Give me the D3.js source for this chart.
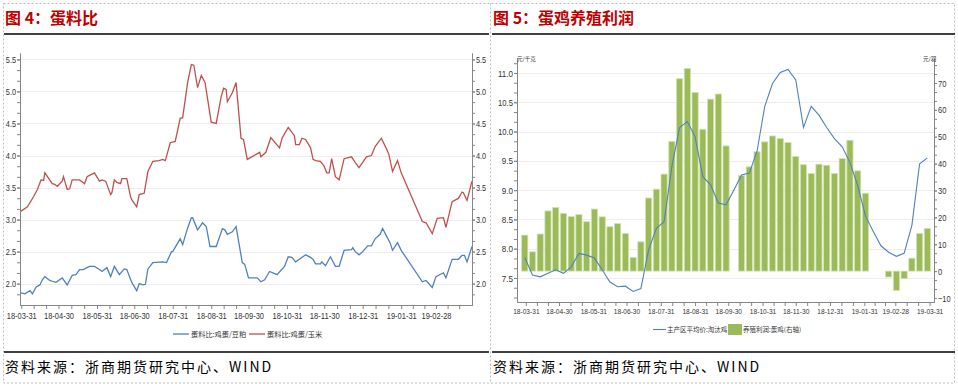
<!DOCTYPE html>
<html><head><meta charset="utf-8">
<script src="https://cdn.jsdelivr.net/npm/d3@7"></script>
<style>body{margin:0;background:#fff}svg{display:block}</style>
</head><body>
<svg id="c" width="958" height="387"></svg>
<script>
// ---------- Figure 4 data: 蛋料比 ----------
const soyDates = ["2018-03-30","2018-04-03","2018-04-07","2018-04-09","2018-04-12","2018-04-15","2018-04-17","2018-04-19","2018-04-23","2018-04-26","2018-04-28","2018-05-03","2018-05-07","2018-05-11","2018-05-14","2018-05-17","2018-05-20","2018-05-23","2018-05-25","2018-05-29","2018-06-02","2018-06-04","2018-06-08","2018-06-11","2018-06-14","2018-06-18","2018-06-22","2018-06-24","2018-06-28","2018-07-02","2018-07-04","2018-07-07","2018-07-09","2018-07-11","2018-07-15","2018-07-23","2018-07-26","2018-07-30","2018-07-31","2018-08-06","2018-08-08","2018-08-12","2018-08-15","2018-08-16","2018-08-20","2018-08-24","2018-08-27","2018-08-30","2018-09-04","2018-09-09","2018-09-11","2018-09-13","2018-09-17","2018-09-20","2018-09-25","2018-09-27","2018-09-30","2018-10-07","2018-10-10","2018-10-13","2018-10-17","2018-10-23","2018-10-29","2018-11-01","2018-11-04","2018-11-07","2018-11-10","2018-11-15","2018-11-19","2018-11-21","2018-11-23","2018-11-27","2018-11-28","2018-12-01","2018-12-05","2018-12-09","2018-12-12","2018-12-16","2018-12-22","2018-12-23","2018-12-25","2018-12-28","2018-12-31","2019-01-04","2019-01-07","2019-01-10","2019-01-14","2019-01-16","2019-01-19","2019-01-22","2019-01-24","2019-01-28","2019-01-31","2019-02-17","2019-02-20","2019-02-25","2019-02-28","2019-03-06","2019-03-08","2019-03-13","2019-03-18","2019-03-21","2019-03-23","2019-03-25","2019-03-29"];
const soyValues = [1.86,1.84,1.89,1.84,1.95,1.98,2.06,2.11,2.05,2.03,2.02,2.09,1.98,2.13,2.14,2.22,2.22,2.25,2.27,2.27,2.22,2.19,2.25,2.11,2.27,2.14,2.23,2.22,2.02,1.89,2.00,1.98,1.99,2.23,2.33,2.34,2.33,2.50,2.50,2.70,2.61,2.87,3.03,3.03,2.84,2.95,2.89,2.58,2.58,2.86,2.84,2.77,2.81,2.89,2.33,2.30,2.09,2.09,2.03,2.06,2.19,2.14,2.27,2.42,2.41,2.34,2.38,2.45,2.41,2.38,2.31,2.31,2.34,2.28,2.42,2.27,2.27,2.52,2.53,2.56,2.50,2.45,2.50,2.59,2.59,2.70,2.77,2.86,2.75,2.64,2.52,2.64,2.52,2.03,2.05,1.94,2.11,2.17,2.09,2.38,2.38,2.44,2.44,2.34,2.58];

const cornDates = ["2018-03-30","2018-04-05","2018-04-10","2018-04-13","2018-04-16","2018-04-18","2018-04-19","2018-04-25","2018-04-27","2018-04-29","2018-05-03","2018-05-04","2018-05-07","2018-05-09","2018-05-11","2018-05-17","2018-05-21","2018-05-23","2018-05-25","2018-05-29","2018-06-02","2018-06-04","2018-06-07","2018-06-11","2018-06-12","2018-06-14","2018-06-16","2018-06-19","2018-06-20","2018-06-24","2018-06-27","2018-06-28","2018-07-02","2018-07-04","2018-07-08","2018-07-11","2018-07-15","2018-07-20","2018-07-23","2018-07-25","2018-07-29","2018-08-02","2018-08-06","2018-08-08","2018-08-12","2018-08-15","2018-08-17","2018-08-20","2018-08-23","2018-08-26","2018-08-31","2018-09-04","2018-09-08","2018-09-10","2018-09-12","2018-09-13","2018-09-17","2018-09-20","2018-09-24","2018-09-26","2018-09-29","2018-10-09","2018-10-10","2018-10-14","2018-10-18","2018-10-25","2018-10-27","2018-11-01","2018-11-04","2018-11-06","2018-11-07","2018-11-10","2018-11-12","2018-11-15","2018-11-19","2018-11-21","2018-11-23","2018-11-27","2018-11-30","2018-12-02","2018-12-04","2018-12-06","2018-12-09","2018-12-12","2018-12-16","2018-12-22","2018-12-25","2018-12-28","2019-01-03","2019-01-07","2019-01-10","2019-01-15","2019-01-19","2019-01-21","2019-01-24","2019-01-28","2019-01-31","2019-02-17","2019-02-20","2019-02-25","2019-03-01","2019-03-06","2019-03-08","2019-03-13","2019-03-18","2019-03-21","2019-03-22","2019-03-25","2019-03-29"];
const cornValues = [3.12,3.20,3.36,3.47,3.62,3.61,3.73,3.56,3.55,3.52,3.60,3.67,3.47,3.48,3.62,3.62,3.56,3.67,3.69,3.73,3.60,3.62,3.60,3.39,3.42,3.62,3.58,3.56,3.64,3.64,3.36,3.31,3.20,3.39,3.41,3.75,3.91,3.92,3.94,3.92,4.20,4.22,4.58,4.59,5.14,5.42,5.41,5.06,5.25,5.14,4.52,4.50,4.92,5.05,5.03,4.84,4.98,5.14,4.27,4.25,3.94,4.05,3.98,4.05,4.28,4.12,4.27,4.44,4.36,4.31,4.17,4.17,4.27,4.25,4.12,3.94,3.92,3.91,3.83,3.73,3.73,3.95,3.67,3.62,3.95,3.98,3.89,3.81,3.98,4.00,4.14,4.27,4.11,4.02,3.75,3.92,3.73,2.97,2.95,2.78,3.02,3.03,2.88,3.28,3.33,3.43,3.42,3.30,3.60];

const leftXTickLabels = ["18-03-31","18-04-30","18-05-31","18-06-30","18-07-31","18-08-31","18-09-30","18-10-31","18-11-30","18-12-31","19-01-31","19-02-28"];
const leftYTicks = [2.0,2.5,3.0,3.5,4.0,4.5,5.0,5.5];
const leftSeriesNames = ["蛋料比:鸡蛋/豆粕","蛋料比:鸡蛋/玉米"];

// ---------- Figure 5 data: 蛋鸡养殖利润 ----------
const weekDates = ["2018-03-30","2018-04-06","2018-04-13","2018-04-20","2018-04-27","2018-05-04","2018-05-11","2018-05-18","2018-05-25","2018-06-01","2018-06-08","2018-06-15","2018-06-22","2018-06-29","2018-07-06","2018-07-13","2018-07-20","2018-07-27","2018-08-03","2018-08-10","2018-08-17","2018-08-24","2018-08-31","2018-09-07","2018-09-14","2018-09-21","2018-09-28","2018-10-05","2018-10-12","2018-10-19","2018-10-26","2018-11-02","2018-11-09","2018-11-16","2018-11-23","2018-11-30","2018-12-07","2018-12-14","2018-12-21","2018-12-28","2019-01-04","2019-01-11","2019-01-18","2019-01-25","2019-02-01","2019-02-08","2019-02-15","2019-02-22","2019-03-01","2019-03-08","2019-03-15","2019-03-22","2019-03-29"];
const henPrice = [7.85,7.55,7.52,7.58,7.64,7.58,7.69,7.92,7.89,7.84,7.64,7.43,7.35,7.36,7.27,7.32,7.98,8.35,8.46,9.40,10.07,10.17,9.91,9.23,9.09,8.78,8.75,9.00,9.26,9.29,9.66,10.43,10.82,11.01,11.06,10.88,10.07,10.43,10.28,10.07,9.88,9.74,9.47,9.08,8.56,8.30,8.05,7.94,7.87,7.92,8.40,9.45,9.55];
const layerProfit = [13.4,7.2,13.8,22.4,23.7,21.5,20.3,21.0,18.4,23.1,20.2,16.5,17.7,14.0,5.1,10.9,27.2,30.5,36.1,48.3,71.6,75.4,66.5,52.8,64.0,65.9,46.6,null,35.5,38.8,44.4,48.1,50.3,49.3,47.9,42.7,39.6,36.3,39.8,39.4,36.3,41.9,48.7,37.3,29.0,null,null,-2.2,-7.2,-2.8,4.8,14.0,15.9];
const rightXTickLabels = ["18-03-31","18-04-30","18-05-31","18-06-30","18-07-31","18-08-31","18-09-30","18-10-31","18-11-30","18-12-31","19-01-31","19-02-28","19-03-31"];
const rightLeftYTicks = [7.5,8.0,8.5,9.0,9.5,10.0,10.5,11.0];
const rightRightYTicks = [-10,0,10,20,30,40,50,60,70];
const rightSeriesNames = ["主产区平均价:淘汰鸡","养殖利润:蛋鸡(右轴)"];

const titles = ["图 4：蛋料比","图 5：蛋鸡养殖利润"];
const sourceText = "资料来源：浙商期货研究中心、WIND";

// ---------- drawing ----------
const NUM = "'Liberation Sans Narrow','Arial Narrow','Liberation Sans',Arial,sans-serif";
const CJK = "'Noto Sans CJK SC','Noto Sans',sans-serif";
const AX = "#868686", TXT = "#333", GRID = "#EDEDED";
const BLUE = "#4F81BD", RED = "#C0504D", GREEN = "#9BBB59";
const pDate = d3.timeParse("%Y-%m-%d"), pTick = d3.timeParse("%y-%m-%d"), fTick = d3.timeFormat("%y-%m-%d");
const svg = d3.select("#c");

svg.append("rect").attr("width",958).attr("height",387).attr("fill","#fff");
const frame = svg.append("g").attr("fill","none").attr("stroke","#BDBDBD").attr("stroke-dasharray","2,2");
frame.append("rect").attr("x",3.5).attr("y",3.5).attr("width",951).attr("height",379.5);
frame.append("line").attr("x1",490.5).attr("x2",490.5).attr("y1",3.5).attr("y2",383);

[[4,489],[492,955]].forEach(([a,b],i)=>{
  svg.append("line").attr("x1",a).attr("x2",b).attr("y1",34).attr("y2",34).attr("stroke","#000").attr("stroke-width",1.5);
  svg.append("line").attr("x1",a).attr("x2",b).attr("y1",352).attr("y2",352).attr("stroke","#000").attr("stroke-width",1.5);
  svg.append("text").attr("x",a+1).attr("y",24).attr("fill","#C00000").attr("font-family",CJK)
    .attr("font-weight","bold").attr("font-size",16).text(titles[i]);
  svg.append("text").attr("x",a+1).attr("y",372).attr("fill","#000").attr("font-family",CJK)
    .attr("font-size",14).attr("letter-spacing",2).text(sourceText);
});

function styleAxis(g, fs, perChar){
  g.select(".domain").attr("stroke",AX);
  g.selectAll(".tick line").attr("stroke",AX);
  const t=g.selectAll(".tick text").attr("fill",TXT).attr("font-family",NUM).attr("font-size",fs);
  if(perChar) t.attr("textLength",function(){return this.textContent.length*perChar;}).attr("lengthAdjust","spacingAndGlyphs");
}
function minorDates(ticks, domain){
  const out=[];
  for(let i=0;i<ticks.length-1;i++){
    const a=+ticks[i], b=+ticks[i+1];
    out.push(new Date(a+(b-a)/3), new Date(a+2*(b-a)/3));
  }
  const last=ticks[ticks.length-1], prev=ticks[ticks.length-2];
  const step=(+last-+prev)/3;
  for(let k=1;k<=2;k++){const d=new Date(+last+step*k); if(d<=domain[1]) out.push(d);}
  return out.filter(d=>d>=domain[0]&&d<=domain[1]);
}
function minorVals(lo,hi,step,d0,d1){
  const out=[]; for(let v=lo; v<=hi+1e-9; v+=step){ if(v>=d0-1e-9&&v<=d1+1e-9) out.push(+v.toFixed(4)); } return out;
}

// ===== Left chart =====
(function(){
  const x0=20,x1=472,yB=305,yT=53;
  const dom=[pDate("2018-03-30"), pDate("2019-03-29")];
  const x=d3.scaleTime().domain(dom).range([x0,x1]);
  const y=d3.scaleLinear().domain([1.667,5.6]).range([yB,yT]);
  const g=svg.append("g");
  g.selectAll(".grid").data(leftYTicks).join("line").attr("x1",x0).attr("x2",x1)
    .attr("y1",d=>Math.round(y(d))+0.5).attr("y2",d=>Math.round(y(d))+0.5).attr("stroke",GRID);
  const line=d3.line().x(d=>x(d[0])).y(d=>y(d[1]));
  const soy=soyDates.map((d,i)=>[pDate(d),soyValues[i]]);
  const corn=cornDates.map((d,i)=>[pDate(d),cornValues[i]]);
  g.append("path").datum(soy).attr("d",line).attr("fill","none").attr("stroke",BLUE).attr("stroke-width",1.3);
  g.append("path").datum(corn).attr("d",line).attr("fill","none").attr("stroke",RED).attr("stroke-width",1.3);

  const ticks=leftXTickLabels.map(pTick);
  const ax=g.append("g").attr("transform",`translate(0,${yB})`)
    .call(d3.axisBottom(x).tickValues(ticks).tickFormat(fTick).tickSize(4).tickSizeOuter(0).tickPadding(3));
  styleAxis(ax,9.5,3.75);
  const axm=g.append("g").attr("transform",`translate(0,${yB})`)
    .call(d3.axisBottom(x).tickValues(minorDates(ticks,dom)).tickFormat("").tickSize(4).tickSizeOuter(0));
  styleAxis(axm,9);
  const yMinor=minorVals(1.6667,5.6,1/6,1.667,5.6);
  [[x0,d3.axisLeft],[x1,d3.axisRight]].forEach(([px,fn])=>{
    const a=g.append("g").attr("transform",`translate(${px},0)`)
      .call(fn(y).tickValues(leftYTicks).tickFormat(d3.format(".1f")).tickSize(3).tickSizeOuter(0).tickPadding(1));
    styleAxis(a,9.5,3.4);
    const m=g.append("g").attr("transform",`translate(${px},0)`)
      .call(fn(y).tickValues(yMinor).tickFormat("").tickSize(3).tickSizeOuter(0));
    styleAxis(m,9);
  });
  const lg=g.append("g").attr("font-family",CJK).attr("font-size",7.2).attr("fill",TXT);
  [[173,BLUE],[249,RED]].forEach(([lx,c],i)=>{
    lg.append("line").attr("x1",lx).attr("x2",lx+16).attr("y1",334).attr("y2",334).attr("stroke",c).attr("stroke-width",1.3);
    lg.append("text").attr("x",lx+18).attr("y",336.7).attr("fill",TXT).text(leftSeriesNames[i]);
  });
})();

// ===== Right chart =====
(function(){
  const x0=517,x1=934,yB=302,yT=58;
  const dom=[pDate("2018-03-23"), pDate("2019-04-04")];
  const x=d3.scaleTime().domain(dom).range([x0,x1]);
  const yl=d3.scaleLinear().domain([7.09,11.256]).range([yB,yT]);
  const yr=d3.scaleLinear().domain([-11.49,79.3]).range([yB,yT]);
  const g=svg.append("g");
  g.selectAll(".grid").data(rightLeftYTicks).join("line").attr("x1",x0).attr("x2",x1)
    .attr("y1",d=>Math.round(yl(d))+0.5).attr("y2",d=>Math.round(yl(d))+0.5).attr("stroke",GRID);
  const weeks=weekDates.map(pDate);
  const bw=(x(weeks[1])-x(weeks[0]))*0.8;
  const bars=weeks.map((d,i)=>({d,v:layerProfit[i]})).filter(o=>o.v!==null);
  g.selectAll(".bar").data(bars).join("rect")
    .attr("x",o=>x(o.d)-bw/2).attr("width",bw)
    .attr("y",o=>Math.min(yr(o.v),yr(0))).attr("height",o=>Math.abs(yr(o.v)-yr(0)))
    .attr("fill",GREEN).attr("stroke","#D4E3B5").attr("stroke-width",0.8);
  const line=d3.line().x((d,i)=>x(weeks[i])).y(d=>yl(d));
  g.append("path").datum(henPrice).attr("d",line).attr("fill","none").attr("stroke",BLUE).attr("stroke-width",1.1);

  const ticks=rightXTickLabels.map(pTick);
  const ax=g.append("g").attr("transform",`translate(0,${yB})`)
    .call(d3.axisBottom(x).tickValues(ticks).tickFormat(fTick).tickSize(4).tickSizeOuter(0).tickPadding(3));
  styleAxis(ax,7.6,3.3);
  const axm=g.append("g").attr("transform",`translate(0,${yB})`)
    .call(d3.axisBottom(x).tickValues(minorDates(ticks,dom)).tickFormat("").tickSize(4).tickSizeOuter(0));
  styleAxis(axm,9);
  const al=g.append("g").attr("transform",`translate(${x0},0)`)
    .call(d3.axisLeft(yl).tickValues(rightLeftYTicks).tickFormat(d3.format(".1f")).tickSize(3).tickSizeOuter(0).tickPadding(1));
  styleAxis(al,9.5,3.75);
  const alm=g.append("g").attr("transform",`translate(${x0},0)`)
    .call(d3.axisLeft(yl).tickValues(minorVals(7.1667,11.256,1/6,7.09,11.256)).tickFormat("").tickSize(3).tickSizeOuter(0));
  styleAxis(alm,9);
  const ar=g.append("g").attr("transform",`translate(${x1},0)`)
    .call(d3.axisRight(yr).tickValues(rightRightYTicks).tickFormat(d3.format("d")).tickSize(3).tickSizeOuter(0).tickPadding(1));
  styleAxis(ar,9.5,4.2);
  const arm=g.append("g").attr("transform",`translate(${x1},0)`)
    .call(d3.axisRight(yr).tickValues(minorVals(-10,79.3,10/3,-11.49,79.3)).tickFormat("").tickSize(3).tickSizeOuter(0));
  styleAxis(arm,9);
  g.append("text").attr("x",x0).attr("y",61).attr("font-family",CJK).attr("font-size",5.5).attr("fill",TXT).text("元/千克");
  g.append("text").attr("x",x1-11).attr("y",61).attr("font-family",CJK).attr("font-size",5.5).attr("fill",TXT).text("元/羽");
  const lg=g.append("g").attr("font-family",CJK).attr("font-size",6.5);
  lg.append("line").attr("x1",653).attr("x2",666).attr("y1",329.5).attr("y2",329.5).attr("stroke",BLUE).attr("stroke-width",1.1);
  lg.append("text").attr("x",667).attr("y",332).attr("fill",TXT).text(rightSeriesNames[0]);
  lg.append("rect").attr("x",728).attr("y",324).attr("width",14).attr("height",11).attr("fill",GREEN);
  lg.append("text").attr("x",743).attr("y",332).attr("fill",TXT).text(rightSeriesNames[1]);
})();
</script>
</body></html>
